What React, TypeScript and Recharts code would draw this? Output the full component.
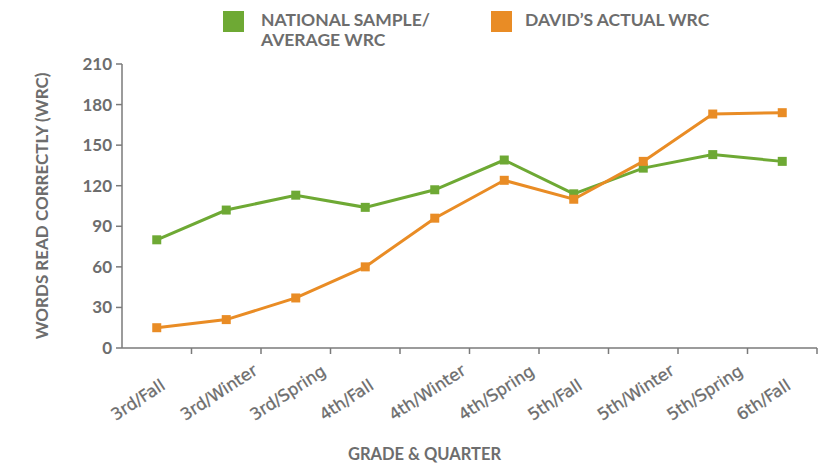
import React from "react";
import { LineChart, Line, XAxis, YAxis } from "recharts";

const categories = [
  "3rd/Fall",
  "3rd/Winter",
  "3rd/Spring",
  "4th/Fall",
  "4th/Winter",
  "4th/Spring",
  "5th/Fall",
  "5th/Winter",
  "5th/Spring",
  "6th/Fall",
];
const nationalWrc = [80, 102, 113, 104, 117, 139, 114, 133, 143, 138];
const davidWrc = [15, 21, 37, 60, 96, 124, 110, 138, 173, 174];
const yTicks = [0, 30, 60, 90, 120, 150, 180, 210];

const data = categories.map((grade, i) => ({
  grade,
  national: nationalWrc[i],
  david: davidWrc[i],
}));

const W = 824;
const H = 463;
const MARGIN = { top: 64, right: 7, left: 0, bottom: 0 };
const Y_WIDTH = 122;
const BAND = (W - MARGIN.left - MARGIN.right - Y_WIDTH) / categories.length;

const GREEN = "#6ea934";
const ORANGE = "#e98c25";
const AXIS = "#7a7a7a";
const TEXT = "#6d6d6d";
const FONT = "Lato, 'DejaVu Sans', sans-serif";

const SquareDot = (color: string) => (props: any) => {
  const { cx, cy } = props;
  if (cx == null || cy == null) return null;
  return <rect x={cx - 4.5} y={cy - 4.5} width={9} height={9} fill={color} />;
};

// tick mark sits on the band edge, label starts left of the point and runs up-right
const XTick = (props: any) => {
  const { x, y, payload } = props;
  return (
    <g>
      <line x1={x + BAND / 2} x2={x + BAND / 2} y1={y - 6} y2={y} stroke={AXIS} strokeWidth={1.5} />
      <g transform={`translate(${x - 41},${y + 67}) rotate(-33)`}>
        <text
          textAnchor="start"
          fill={TEXT}
          stroke={TEXT}
          strokeWidth={0.3}
          fontSize={16.5}
          fontFamily="'DejaVu Sans', sans-serif"
        >
          {payload.value}
        </text>
      </g>
    </g>
  );
};

const LegendItem = ({ color, left, textLeft, text }: { color: string; left: number; textLeft: number; text: string[] }) => (
  <>
    <div style={{ position: "absolute", left, top: 11, width: 21, height: 21, background: color }} />
    <div
      style={{
        position: "absolute",
        left: textLeft,
        top: 10,
        fontFamily: FONT,
        fontWeight: 700,
        fontSize: 17.5,
        lineHeight: "20px",
        color: TEXT,
        whiteSpace: "nowrap",
      }}
    >
      {text.map((t) => (
        <div key={t}>{t}</div>
      ))}
    </div>
  </>
);

export default function App() {
  return (
    <div style={{ position: "absolute", left: 0, top: 0, width: W, height: H, background: "#fff" }}>
      <LineChart width={W} height={H} data={data} margin={MARGIN}>
        <XAxis
          dataKey="grade"
          scale="band"
          height={H - 348}
          tickLine={false}
          tickSize={6}
          tickMargin={0}
          interval={0}
          stroke={AXIS}
          strokeWidth={1.5}
          tick={<XTick />}
          label={{
            value: "GRADE & QUARTER",
            position: "insideBottom",
            offset: 3,
            dx: -45,
            style: { fill: TEXT, fontSize: 16.5, fontWeight: 700, fontFamily: FONT },
          }}
        />
        <YAxis
          domain={[0, 210]}
          ticks={yTicks}
          width={Y_WIDTH}
          stroke={AXIS}
          strokeWidth={1.5}
          tickSize={6}
          tickMargin={4}
          tick={{ fill: TEXT, fontSize: 17, fontWeight: 700, fontFamily: FONT }}
          label={{
            value: "WORDS READ CORRECTLY (WRC)",
            angle: -90,
            position: "center",
            dx: -19,
            style: { fill: TEXT, fontSize: 17, fontWeight: 700, fontFamily: FONT, textAnchor: "middle" },
          }}
        />
        <Line
          dataKey="national"
          stroke={GREEN}
          strokeWidth={3}
          dot={SquareDot(GREEN)}
          activeDot={false}
          isAnimationActive={false}
        />
        <Line
          dataKey="david"
          stroke={ORANGE}
          strokeWidth={3}
          dot={SquareDot(ORANGE)}
          activeDot={false}
          isAnimationActive={false}
        />
      </LineChart>
      <LegendItem color={GREEN} left={223} textLeft={261} text={["NATIONAL SAMPLE/", "AVERAGE WRC"]} />
      <LegendItem color={ORANGE} left={491} textLeft={525} text={["DAVID\u2019S ACTUAL WRC"]} />
    </div>
  );
}
